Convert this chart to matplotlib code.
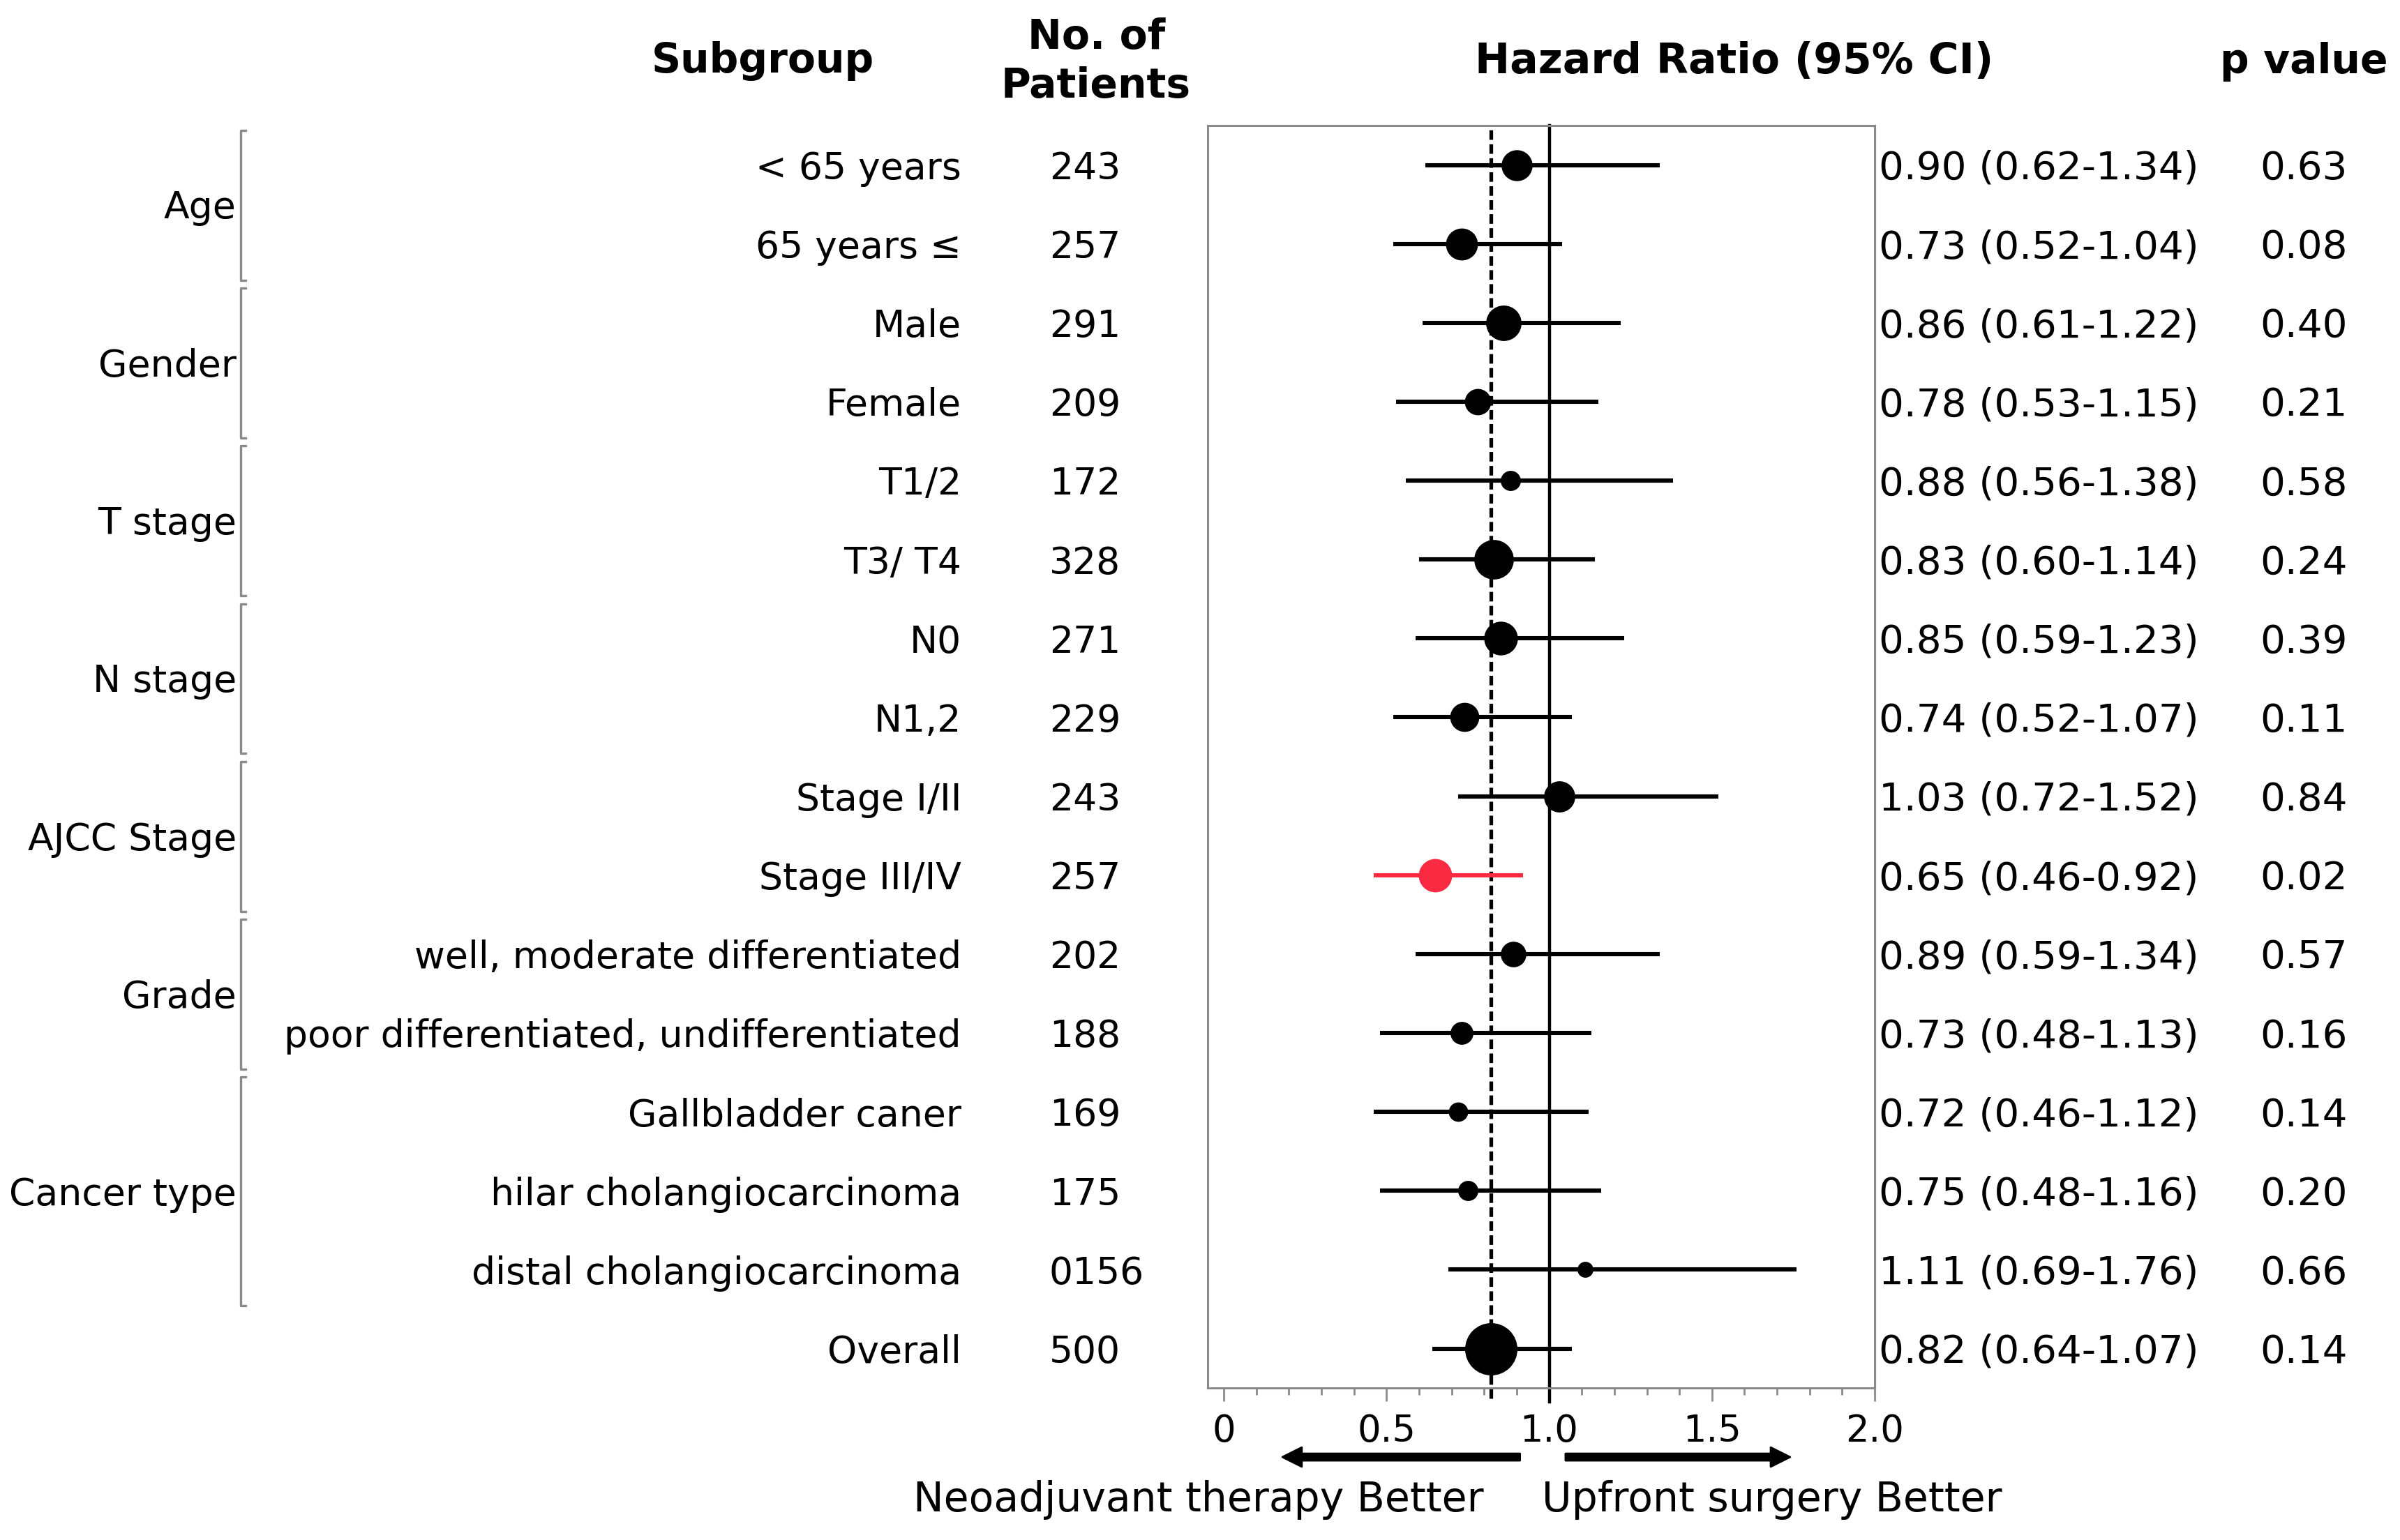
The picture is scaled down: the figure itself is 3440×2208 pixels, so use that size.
import matplotlib.pyplot as plt
import matplotlib.transforms as mtransforms
from matplotlib.ticker import FixedLocator, FixedFormatter, MultipleLocator

plt.rcParams['font.family'] = ['DejaVu Sans']

# ---- data ----
groups = ['Age', 'Gender', 'T stage', 'N stage', 'AJCC Stage', 'Grade', 'Cancer type']
group_rows = [(0, 1), (2, 3), (4, 5), (6, 7), (8, 9), (10, 11), (12, 14)]

subgroups = ['< 65 years', '65 years \u2264', 'Male', 'Female', 'T1/2', 'T3/ T4',
             'N0', 'N1,2', 'Stage I/II', 'Stage III/IV',
             'well, moderate differentiated', 'poor differentiated, undifferentiated',
             'Gallbladder caner', 'hilar cholangiocarcinoma', 'distal cholangiocarcinoma',
             'Overall']
patients = ['243', '257', '291', '209', '172', '328', '271', '229', '243', '257',
            '202', '188', '169', '175', '0156', '500']
hr = [0.90, 0.73, 0.86, 0.78, 0.88, 0.83, 0.85, 0.74, 1.03, 0.65, 0.89, 0.73, 0.72, 0.75, 1.11, 0.82]
ci_lo = [0.62, 0.52, 0.61, 0.53, 0.56, 0.60, 0.59, 0.52, 0.72, 0.46, 0.59, 0.48, 0.46, 0.48, 0.69, 0.64]
ci_hi = [1.34, 1.04, 1.22, 1.15, 1.38, 1.14, 1.23, 1.07, 1.52, 0.92, 1.34, 1.13, 1.12, 1.16, 1.76, 1.07]
pvals = ['0.63', '0.08', '0.40', '0.21', '0.58', '0.24', '0.39', '0.11', '0.84', '0.02',
         '0.57', '0.16', '0.14', '0.20', '0.66', '0.14']
overall_hr = 0.82
xticks = [0, 0.5, 1.0, 1.5, 2.0]
xtick_labels = ['0', '0.5', '1.0', '1.5', '2.0']

# marker diameter (pt) as drawn in the figure
dot_size = [15, 15.5, 17.3, 12.6, 9.4, 19.4, 16.4, 14, 15.1, 16.2, 12.2, 10.8, 9, 9.4, 7.2, 26]
highlight = 9  # Stage III/IV
red = '#fa2a43'

fig = plt.figure(figsize=(17.205, 11.04), dpi=200)
ax = fig.add_axes([0.503, 0.0987, 0.2779, 0.8198])
ax.set_xlim(-0.05, 2.0)
ax.set_ylim(15.5, -0.5)
ax.set_yticks([])
for s in ax.spines.values():
    s.set_color('#8a8a8a')
    s.set_linewidth(1.1)

ax.xaxis.set_major_locator(FixedLocator(xticks))
ax.xaxis.set_major_formatter(FixedFormatter(xtick_labels))
ax.xaxis.set_minor_locator(MultipleLocator(0.1))
ax.tick_params(axis='x', which='major', length=6.8, width=1.0, color='#8a8a8a',
               labelsize=19, pad=6)
ax.tick_params(axis='x', which='minor', length=3.6, width=1.0, color='#8a8a8a')

# reference lines
ax.axvline(1.0, ymin=-0.011, ymax=1, color='black', lw=1.6, clip_on=False, zorder=2)
ax.axvline(overall_hr, ymin=-0.008, ymax=1, color='black', lw=1.9, dashes=(2.6, 1.2),
           clip_on=False, zorder=2)

rows = list(range(len(subgroups)))
for i in rows:
    c = red if i == highlight else 'black'
    ax.plot([ci_lo[i], ci_hi[i]], [i, i], color=c, lw=2.2, solid_capstyle='butt', zorder=3)
    ax.plot(hr[i], i, 'o', ms=dot_size[i], color=c, mec=c, zorder=4)

# text columns
trans = mtransforms.blended_transform_factory(fig.transFigure, ax.transData)
base = 0.18
fs = 19.3
for i in rows:
    ax.text(0.4005, i + base, subgroups[i], transform=trans, ha='right', va='baseline', fontsize=fs)
    ax.text(0.437, i + base, patients[i], transform=trans, ha='left', va='baseline', fontsize=fs)
    ax.text(0.7825, i + base, '%.2f (%.2f-%.2f)' % (hr[i], ci_lo[i], ci_hi[i]),
            transform=trans, ha='left', va='baseline', fontsize=20.3)
    ax.text(0.9415, i + base, pvals[i], transform=trans, ha='left', va='baseline', fontsize=20.3)

for g, (a, b) in zip(groups, group_rows):
    ym = (a + b) / 2.0
    ax.text(0.0985, ym + base, g, transform=trans, ha='right', va='baseline', fontsize=fs)
    top, bot = a - 0.44, b + 0.46
    ax.plot([0.1024, 0.1003, 0.1003, 0.1024], [top, top, bot, bot], transform=trans,
            color='#8a8a8a', lw=1.2, clip_on=False)

# headers
ax.text(0.3177, -1.17, 'Subgroup', transform=trans, ha='center', va='baseline',
        fontsize=21, fontweight='bold')
ax.text(0.4566, -1.47, 'No. of', transform=trans, ha='center', va='baseline',
        fontsize=21, fontweight='bold')
ax.text(0.4566, -0.855, 'Patients', transform=trans, ha='center', va='baseline',
        fontsize=21, fontweight='bold')
ax.text(0.7223, -1.16, 'Hazard Ratio (95% CI)', transform=trans, ha='center', va='baseline',
        fontsize=21.6, fontweight='bold')
ax.text(0.9596, -1.16, 'p value', transform=trans, ha='center', va='baseline',
        fontsize=21, fontweight='bold')

# direction arrows
trans2 = mtransforms.blended_transform_factory(ax.transData, ax.transAxes)
arrow = dict(arrowstyle='simple,head_length=0.5,head_width=0.5,tail_width=0.18',
             color='black', mutation_scale=20, shrinkA=0, shrinkB=0)
ax.annotate('', xy=(0.18, -0.0547), xytext=(0.91, -0.0547), xycoords=trans2,
            textcoords=trans2, arrowprops=arrow, annotation_clip=False)
ax.annotate('', xy=(1.74, -0.0547), xytext=(1.05, -0.0547), xycoords=trans2,
            textcoords=trans2, arrowprops=arrow, annotation_clip=False)
ax.text(-0.078, -0.0978, 'Neoadjuvant therapy Better', transform=trans2, ha='center',
        va='baseline', fontsize=21)
ax.text(1.685, -0.0978, 'Upfront surgery Better', transform=trans2, ha='center',
        va='baseline', fontsize=21)

fig.savefig('out.png', dpi=200, facecolor='white')
